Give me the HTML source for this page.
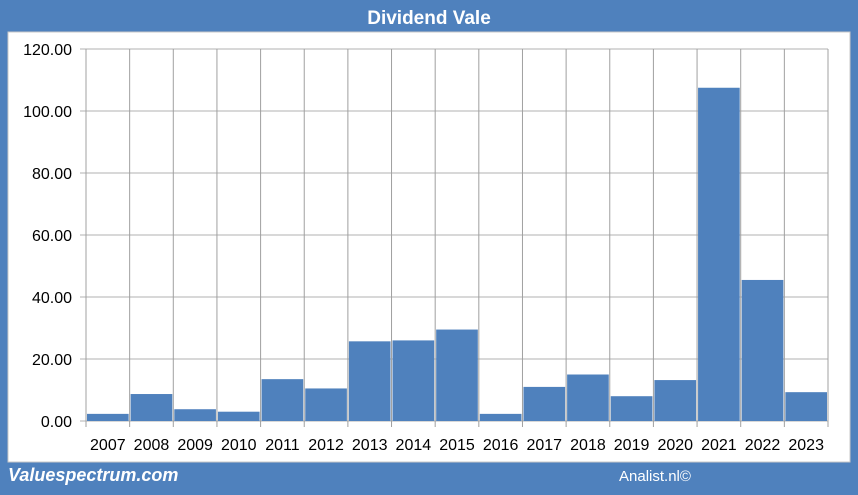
<!DOCTYPE html>
<html><head><style>
body{margin:0;width:858px;height:490px;background:#4f81bd;overflow:hidden;font-family:"Liberation Sans",Arial,sans-serif}
</style></head><body>
<svg width="858" height="490" xmlns="http://www.w3.org/2000/svg">
<rect x="0" y="0" width="858" height="490" fill="#4f81bd"/>
<text x="429" y="24" text-anchor="middle" fill="#fff" font-weight="bold" font-size="19">Dividend Vale</text>
<rect x="8" y="32" width="842" height="430" fill="#fff" stroke="#c8c8c8"/>
<g id="g"></g>
<text x="8" y="481" fill="#fff" font-weight="bold" font-style="italic" font-size="18">Valuespectrum.com</text>
<text x="619" y="481" fill="#fff" font-size="15">Analist.nl©</text>
</svg>
<script>
const categories=["2007","2008","2009","2010","2011","2012","2013","2014","2015","2016","2017","2018","2019","2020","2021","2022","2023"];
const values=[2.3,8.7,3.8,3.0,13.5,10.5,25.7,26.0,29.5,2.3,11.0,15.0,8.0,13.2,107.5,45.5,9.3];
const yTicks=[0,20,40,60,80,100,120];
const X0=86,X1=828,Y0=421,Y1=49,MAX=120;
const bw=(X1-X0)/categories.length;
const y=v=>Y0-(v/MAX)*(Y0-Y1);
const x=i=>X0+i*bw;
const g=document.getElementById('g');const NS="http://www.w3.org/2000/svg";
function mk(t,a){const e=document.createElementNS(NS,t);for(const k in a)e.setAttribute(k,a[k]);g.appendChild(e);return e;}
yTicks.forEach(t=>{
 const l=mk('line',{x1:X0-6,x2:X1,y1:y(t),y2:y(t),stroke:'#b0b0b0','stroke-width':1});
 
 
 const tx=mk('text',{x:X0-14,y:y(t)+6,'text-anchor':'end','font-size':16,fill:'#000'});
 tx.textContent=t.toFixed(2);
 
 
});
for(let i=0;i<=categories.length;i++){
 const l=mk('line',{x1:x(i),x2:x(i),y1:Y1,y2:Y0+6,stroke:'#a0a0a0','stroke-width':1});
 
 
}
categories.forEach((c,i)=>{
 const r=mk('rect',{x:x(i)+1,y:y(values[i]),width:bw-2,height:Y0-y(values[i]),fill:'#4f81bd'});
 
 
 const tx=mk('text',{x:x(i)+bw/2,y:450,'text-anchor':'middle','font-size':16,fill:'#000'});
 tx.textContent=c;
 
 
});
</script>
</body></html>
